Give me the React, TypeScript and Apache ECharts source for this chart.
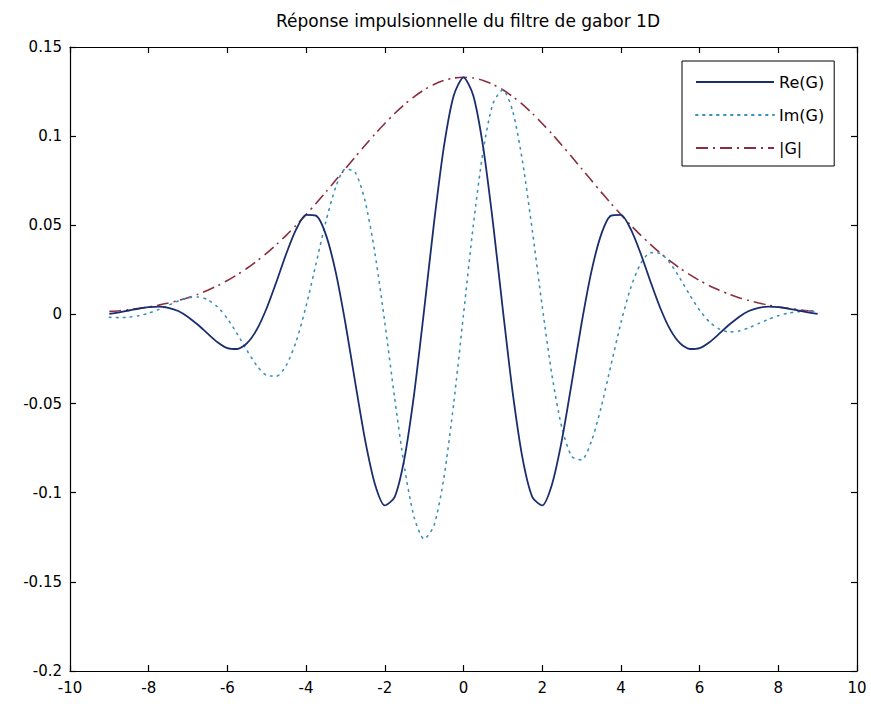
import React, { useEffect, useRef } from "react";
import * as echarts from "echarts";

const titleText = "Réponse impulsionnelle du filtre de gabor 1D";
const seriesNames = ["Re(G)", "Im(G)", "|G|"];
const xTicks = { min: -10, max: 10, interval: 2 };
const yTicks = { min: -0.2, max: 0.15, interval: 0.05 };

const xValues = [
  -9, -8.75, -8.5, -8.25, -8, -7.75, -7.5, -7.25, -7, -6.75, -6.5, -6.25, -6, -5.75, -5.5, -5.25,
  -5, -4.75, -4.5, -4.25, -4, -3.75, -3.5, -3.25, -3, -2.75, -2.5, -2.25, -2, -1.75, -1.5, -1.25,
  -1, -0.75, -0.5, -0.25, 0, 0.25, 0.5, 0.75, 1, 1.25, 1.5, 1.75, 2, 2.25, 2.5, 2.75,
  3, 3.25, 3.5, 3.75, 4, 4.25, 4.5, 4.75, 5, 5.25, 5.5, 5.75, 6, 6.25, 6.5, 6.75,
  7, 7.25, 7.5, 7.75, 8, 8.25, 8.5, 8.75, 9,
];

const reValues = [
  0.0003, 0.0012, 0.0022, 0.0033, 0.0041, 0.0044, 0.0037, 0.0019, -0.0014, -0.0058, -0.0108, -0.0156,
  -0.0189, -0.0194, -0.0161, -0.0084, 0.0036, 0.0185, 0.0343, 0.0478, 0.0558, 0.0554, 0.0449, 0.024,
  -0.0051, -0.0384, -0.0705, -0.0952, -0.1071, -0.1025, -0.0806, -0.0438, 0.0026, 0.0512, 0.0938, 0.1227,
  0.133,
  0.1227, 0.0938, 0.0512, 0.0026, -0.0438, -0.0806, -0.1025, -0.1071, -0.0952, -0.0705, -0.0384, -0.0051,
  0.024, 0.0449, 0.0554, 0.0558, 0.0478, 0.0343, 0.0185, 0.0036, -0.0084, -0.0161, -0.0194, -0.0189,
  -0.0156, -0.0108, -0.0058, -0.0014, 0.0019, 0.0037, 0.0044, 0.0041, 0.0033, 0.0022, 0.0012, 0.0003,
];

const imValues = [
  -0.0016, -0.0018, -0.0015, -0.0007, 0.0007, 0.0027, 0.0051, 0.0075, 0.0093, 0.0098, 0.0082, 0.0042,
  -0.0024, -0.0109, -0.0203, -0.0288, -0.0342, -0.0346, -0.0284, -0.015, 0.0047, 0.0282, 0.0519, 0.0712,
  0.0816, 0.0796, 0.0635, 0.0343, -0.0045, -0.0469, -0.0858, -0.1141, -0.126, -0.1184, -0.0918, -0.0501,
  0,
  0.0501, 0.0918, 0.1184, 0.126, 0.1141, 0.0858, 0.0469, 0.0045, -0.0343, -0.0635, -0.0796, -0.0816,
  -0.0712, -0.0519, -0.0282, -0.0047, 0.015, 0.0284, 0.0346, 0.0342, 0.0288, 0.0203, 0.0109, 0.0024,
  -0.0042, -0.0082, -0.0098, -0.0093, -0.0075, -0.0051, -0.0027, -0.0007, 0.0007, 0.0015, 0.0018, 0.0016,
];

const absValues = [
  0.0017, 0.0021, 0.0027, 0.0034, 0.0042, 0.0052, 0.0064, 0.0078, 0.0094, 0.0113, 0.0136, 0.0161,
  0.019, 0.0223, 0.0259, 0.03, 0.0344, 0.0393, 0.0445, 0.0501, 0.056, 0.0622, 0.0686, 0.0752,
  0.0818, 0.0884, 0.0949, 0.1012, 0.1071, 0.1127, 0.1178, 0.1222, 0.126, 0.129, 0.1312, 0.1326,
  0.133,
  0.1326, 0.1312, 0.129, 0.126, 0.1222, 0.1178, 0.1127, 0.1071, 0.1012, 0.0949, 0.0884, 0.0818,
  0.0752, 0.0686, 0.0622, 0.056, 0.0501, 0.0445, 0.0393, 0.0344, 0.03, 0.0259, 0.0223, 0.019,
  0.0161, 0.0136, 0.0113, 0.0094, 0.0078, 0.0064, 0.0052, 0.0042, 0.0034, 0.0027, 0.0021, 0.0017,
];

const FONT = "DejaVu Sans";

function pairs(ys: number[]) {
  return xValues.map((x, i) => [x, ys[i]]);
}

export default function App() {
  const ref = useRef<HTMLDivElement>(null);

  useEffect(() => {
    if (!ref.current) return;
    const chart = echarts.init(ref.current, null, { renderer: "svg" });

    const axisCommon = {
      axisLine: { show: true, onZero: false, lineStyle: { color: "#000", width: 1.2 } },
      axisTick: { show: true, inside: true, length: 6, lineStyle: { color: "#000", width: 1.2 } },
      splitLine: { show: false },
    };

    chart.setOption({
      animation: false,
      backgroundColor: "#fff",
      title: {
        text: titleText,
        left: 463,
        top: 7,
        textAlign: "center",
        textStyle: { fontFamily: FONT, fontSize: 17, fontWeight: "normal", color: "#000" },
      },
      legend: {
        orient: "vertical",
        left: 682,
        top: 61,
        padding: [13, 10, 10, 13],
        itemWidth: 78,
        itemHeight: 16,
        itemGap: 17,
        borderColor: "#000",
        borderWidth: 1,
        backgroundColor: "#fff",
        itemStyle: { color: "rgba(0,0,0,0)", borderColor: "rgba(0,0,0,0)", borderWidth: 0, opacity: 0 },
        textStyle: { fontFamily: FONT, fontSize: 16, color: "#000", width: 60 },
        data: seriesNames,
      },
      grid: { left: 70, right: 14, top: 47, bottom: 33, containLabel: false },
      xAxis: [
        {
          type: "value",
          position: "bottom",
          min: xTicks.min,
          max: xTicks.max,
          interval: xTicks.interval,
          ...axisCommon,
          axisLabel: { show: true, color: "#000", fontFamily: FONT, fontSize: 15, margin: 9 },
        },
        {
          type: "value",
          position: "top",
          min: xTicks.min,
          max: xTicks.max,
          interval: xTicks.interval,
          ...axisCommon,
          axisLabel: { show: false },
        },
      ],
      yAxis: [
        {
          type: "value",
          position: "left",
          min: yTicks.min,
          max: yTicks.max,
          interval: yTicks.interval,
          ...axisCommon,
          axisLabel: {
            show: true,
            color: "#000",
            fontFamily: FONT,
            fontSize: 15,
            margin: 8,
            formatter: (v: number) => String(+v.toFixed(2)),
          },
        },
        {
          type: "value",
          position: "right",
          min: yTicks.min,
          max: yTicks.max,
          interval: yTicks.interval,
          ...axisCommon,
          axisLabel: { show: false },
        },
      ],
      series: [
        {
          name: seriesNames[0],
          type: "line",
          data: pairs(reValues),
          smooth: 0.25,
          symbol: "none",
          showSymbol: false,
          z: 4,
          itemStyle: { color: "#1a2e6e" },
          lineStyle: { color: "#1a2e6e", width: 1.8, type: "solid" },
        },
        {
          name: seriesNames[1],
          type: "line",
          data: pairs(imValues),
          smooth: 0.25,
          symbol: "none",
          showSymbol: false,
          z: 3,
          itemStyle: { color: "#3a92ba" },
          lineStyle: { color: "#3a92ba", width: 1.6, type: [1.6, 5.4], cap: "round" },
        },
        {
          name: seriesNames[2],
          type: "line",
          data: pairs(absValues),
          smooth: 0.25,
          symbol: "none",
          showSymbol: false,
          z: 2,
          itemStyle: { color: "#8a2f3f" },
          lineStyle: { color: "#8a2f3f", width: 1.6, type: [12, 5, 2, 5] },
        },
      ],
    });

    return () => chart.dispose();
  }, []);

  return (
    <div
      ref={ref}
      style={{ position: "fixed", left: 0, top: 0, width: 871, height: 704, background: "#fff" }}
    />
  );
}
